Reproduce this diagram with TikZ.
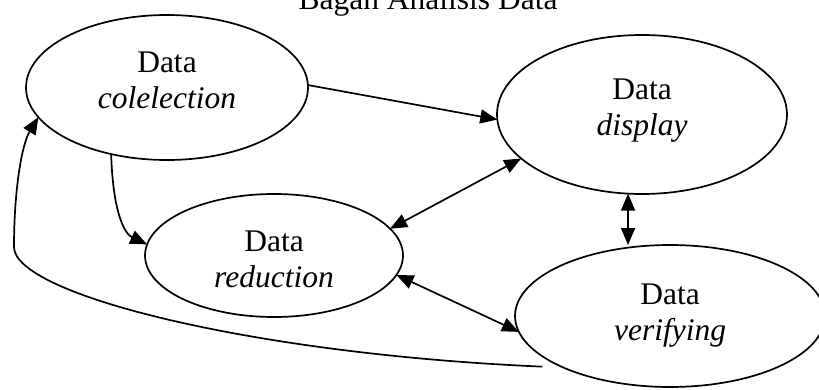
\documentclass[tikz,border=0pt]{standalone}
\usepackage{fontspec}
\setmainfont{Liberation Serif}
\usetikzlibrary{arrows.meta,shapes.geometric}

\begin{document}
\begin{tikzpicture}[x=1pt, y=1pt,
    >={Triangle[length=17pt,width=14pt]},
    line width=1.7pt,
    every node/.append style={align=center, font=\fontsize{31.5}{36}\selectfont},
    elp/.style={draw, ellipse, inner sep=0pt, outer sep=0pt}]

   \useasboundingbox (0,0) rectangle (819,389);

   \node [anchor=base] (T) at (428,379) {Bagan Analisis Data};
   \node [elp, minimum width=282pt, minimum height=145pt, text depth=14pt] (C) at (167,301.5) {Data\\\textit{colelection}};
   \node [elp, minimum width=290pt, minimum height=159pt, text depth=14pt] (D) at (642,274.5) {Data\\\textit{display}};
   \node [elp, minimum width=258pt, minimum height=123pt, text height=65pt] (R) at (274,133.5) {Data\\\textit{reduction}};
   \node [elp, minimum width=310pt, minimum height=142pt] (V) at (670,73) {Data\\\textit{verifying}};
   \coordinate (Ve) at ([xshift=-19pt]V.205);

   \path[->] (C.1) edge (D.182);
   \path[<->] (D.200) edge (R.13)
   (D.260) edge (D.260 |- V.north)
   (R.-9) edge (V.186);

   \draw[->] (C.230) .. controls (113,175) and (125,155) .. (R.175);
   \draw[->] (Ve) .. controls (250,35) and (14,95) .. (14,142)
      .. controls (14,200) and (22,245) .. (C.193);
\end{tikzpicture}
\end{document}
